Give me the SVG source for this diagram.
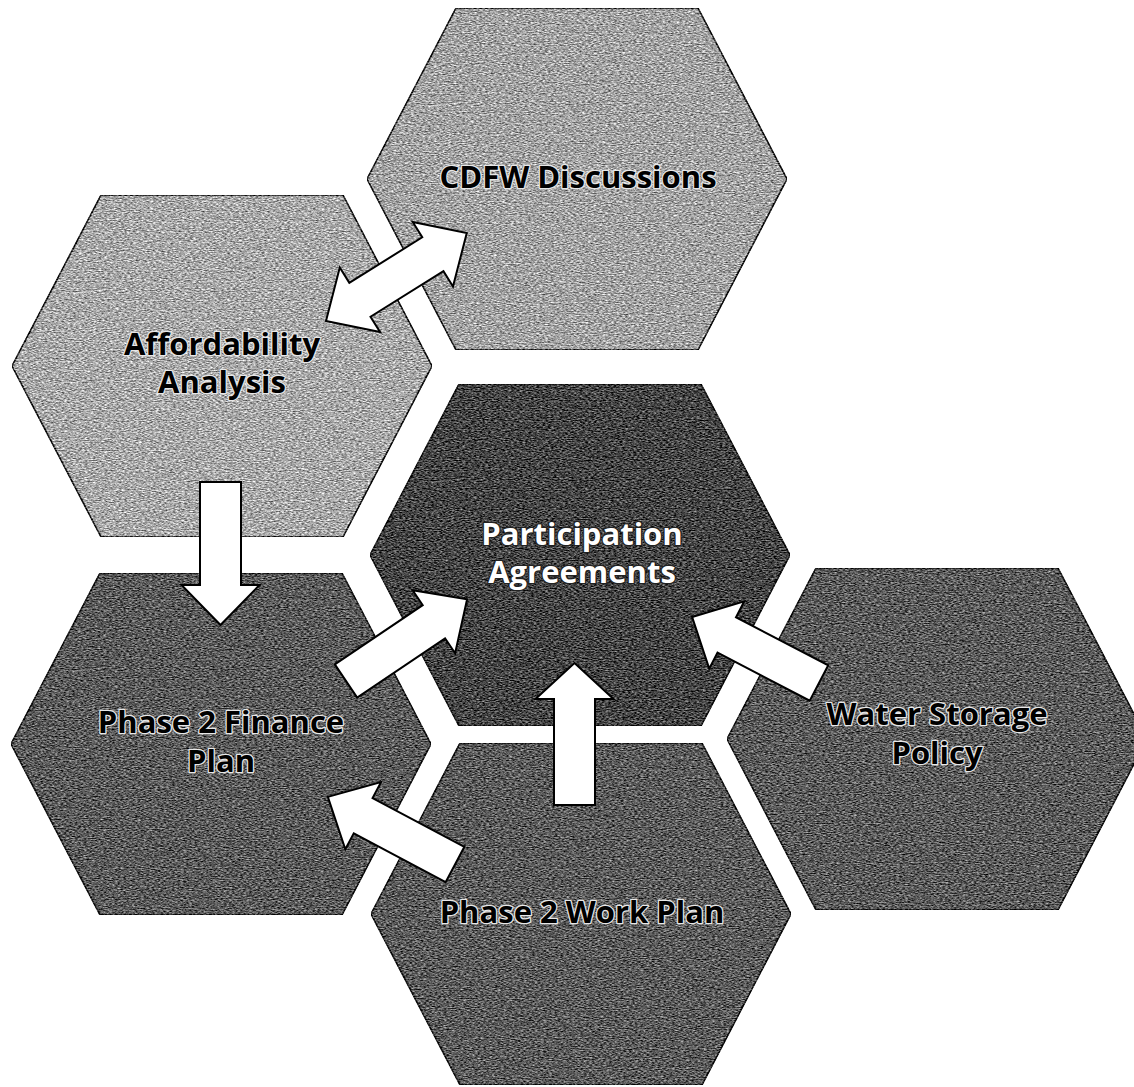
<svg xmlns="http://www.w3.org/2000/svg" width="1134" height="1087" viewBox="0 0 1134 1087">
  <defs>
    <polygon id="hex" points="-121,-171 121,-171 210,0 121,171 -121,171 -210,0"/>
    <filter id="grain" color-interpolation-filters="sRGB" x="0" y="0" width="1" height="1">
      <feTurbulence type="fractalNoise" baseFrequency="0.35 0.9" numOctaves="2" seed="7" result="noise"/>
      <feColorMatrix in="noise" type="matrix" values="1 0 0 0 0  1 0 0 0 0  1 0 0 0 0  0 0 0 0 1" result="gray"/>
      <feComposite in="SourceGraphic" in2="gray" operator="arithmetic" k1="0" k2="1" k3="1.1" k4="-0.55" result="mix"/>
      <feComposite in="mix" in2="SourceGraphic" operator="in"/>
    </filter>
    <style>
      .hex { stroke: #111; stroke-width: 1.6; filter: url(#grain); }
      .light { fill: #a2a2a2; }
      .lighter { fill: #a8a8a8; }
      .mid { fill: #5a5a5a; }
      .dark { fill: #444444; }
      .lbl { font-family: "Open Sans", "Liberation Sans", sans-serif; font-weight: bold; font-size: 31px; text-anchor: middle; paint-order: stroke; stroke-linejoin: round; }
      .blk { fill: #000; stroke: #e8e8e8; stroke-width: 2.5; }
      .wht { fill: #fff; stroke: #222; stroke-width: 2.5; }
      .arrow { fill: #fff; stroke: #000; stroke-width: 2; stroke-linejoin: miter; }
    </style>
  </defs>
  <rect width="1134" height="1087" fill="#fff"/>

  <g id="node-cdfw">
    <use href="#hex" class="hex light" transform="translate(577,179)"/>
    <text class="lbl blk" x="578" y="188">CDFW Discussions</text>
  </g>
  <g id="node-affordability">
    <use href="#hex" class="hex lighter" transform="translate(222,366)"/>
    <text class="lbl blk" x="222" y="355">Affordability</text>
    <text class="lbl blk" x="222" y="393">Analysis</text>
  </g>
  <g id="node-participation">
    <use href="#hex" class="hex dark" transform="translate(580,555)"/>
    <text class="lbl wht" x="582" y="545">Participation</text>
    <text class="lbl wht" x="582" y="583">Agreements</text>
  </g>
  <g id="node-finance">
    <use href="#hex" class="hex mid" transform="translate(221,744)"/>
    <text class="lbl blk" x="221" y="733">Phase 2 Finance</text>
    <text class="lbl blk" x="221" y="772">Plan</text>
  </g>
  <g id="node-water">
    <use href="#hex" class="hex mid" transform="translate(937,739)"/>
    <text class="lbl blk" x="937" y="725">Water Storage</text>
    <text class="lbl blk" x="937" y="764">Policy</text>
  </g>
  <g id="node-workplan">
    <use href="#hex" class="hex mid" transform="translate(581,914)"/>
    <text class="lbl blk" x="582" y="923">Phase 2 Work Plan</text>
  </g>

  <g id="connectors">
    <!-- Affordability <-> CDFW -->
    <polygon class="arrow" transform="translate(326,321) rotate(-32)" points="0,0 40,-38 40,-20 126,-20 126,-38 166,0 126,38 126,20 40,20 40,38"/>
    <!-- Affordability -> Finance -->
    <polygon class="arrow" points="200,482 241,482 241,585 259.5,585 220.5,625 181.5,585 200,585"/>
    <!-- Finance -> Participation -->
    <polygon class="arrow" transform="translate(346,681) rotate(-34)" points="0,-20 106,-20 106,-38 146,0 106,38 106,20 0,20"/>
    <!-- Work Plan -> Finance -->
    <polygon class="arrow" transform="translate(455,864.5) rotate(-152)" points="0,-20 104,-20 104,-38 144,0 104,38 104,20 0,20"/>
    <!-- Water Storage -> Participation -->
    <polygon class="arrow" transform="translate(819,683) rotate(-152.5)" points="0,-20 104,-20 104,-38 143,0 104,38 104,20 0,20"/>
    <!-- Work Plan -> Participation -->
    <polygon class="arrow" points="554,805 554,699 535.5,699 574.5,663 613.5,699 595,699 595,805"/>
  </g>
</svg>
